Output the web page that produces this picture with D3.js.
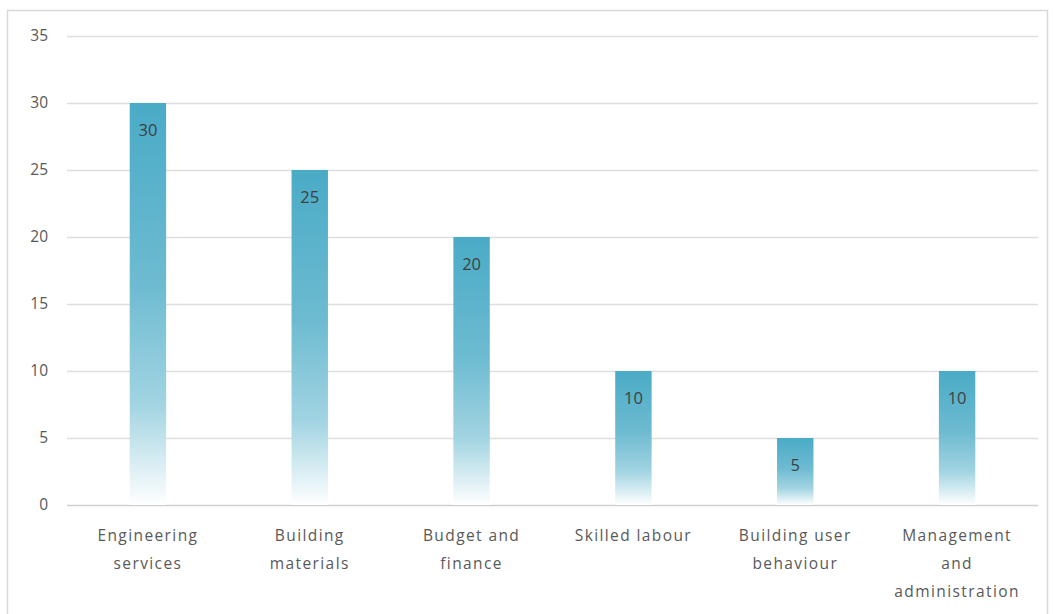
<!DOCTYPE html>
<html>
<head>
<meta charset="utf-8">
<script src="https://cdn.jsdelivr.net/npm/d3@7"></script>
<style>
  html, body { margin: 0; padding: 0; background: #ffffff; }
  svg { display: block; }
</style>
</head>
<body>
<script>
// Reported factor counts by category
const categories = [
  ["Engineering", "services"],
  ["Building", "materials"],
  ["Budget and", "finance"],
  ["Skilled labour"],
  ["Building user", "behaviour"],
  ["Management", "and", "administration"]
];
const values = [30, 25, 20, 10, 5, 10];
const yTicks = [0, 5, 10, 15, 20, 25, 30, 35];

const W = 1053, H = 614;
const margin = { left: 67, right: 15, top: 36, bottom: 109 };

const svg = d3.select("body").append("svg")
  .attr("width", W).attr("height", H);

// chart frame
svg.append("rect")
  .attr("x", 7.5).attr("y", 10.5)
  .attr("width", 1040).attr("height", 620)
  .attr("fill", "#fff").attr("stroke", "#d9d9d9").attr("stroke-width", 1.5);

const x = d3.scaleBand()
  .domain(d3.range(categories.length))
  .range([margin.left, W - margin.right])
  .paddingInner(0.775).paddingOuter(0.3875);

const y = d3.scaleLinear()
  .domain([0, 35])
  .range([H - margin.bottom, margin.top]);

const defs = svg.append("defs");
const grad = defs.append("linearGradient")
  .attr("id", "barFill")
  .attr("x1", 0).attr("y1", 0).attr("x2", 0).attr("y2", 1);
grad.append("stop").attr("offset", "0%").attr("stop-color", "#4aabc6");
grad.append("stop").attr("offset", "45%").attr("stop-color", "#6dbbd1");
grad.append("stop").attr("offset", "75%").attr("stop-color", "#a2d4e2");
grad.append("stop").attr("offset", "100%").attr("stop-color", "#ffffff");

// horizontal gridlines
svg.append("g")
  .selectAll("line")
  .data(yTicks)
  .join("line")
  .attr("x1", margin.left).attr("x2", W - margin.right)
  .attr("y1", d => Math.round(y(d)) + 0.5).attr("y2", d => Math.round(y(d)) + 0.5)
  .attr("stroke", d => d === 0 ? "#d0d0d0" : "#dedede")
  .attr("stroke-width", 1.3);

// y axis labels
const yAxis = d3.axisLeft(y).tickValues(yTicks).tickSize(0).tickPadding(0);
const gy = svg.append("g")
  .attr("transform", `translate(${margin.left - 19},0)`)
  .call(yAxis);
gy.select(".domain").remove();
gy.selectAll("text")
  .attr("font-family", "'Open Sans', sans-serif")
  .attr("font-size", 15.5)
  .attr("fill", "#595959");

// bars
svg.append("g")
  .selectAll("rect")
  .data(values)
  .join("rect")
  .attr("x", (d, i) => x(i))
  .attr("y", d => y(d))
  .attr("width", x.bandwidth())
  .attr("height", d => y(0) - y(d))
  .attr("fill", "url(#barFill)");

// value labels
svg.append("g")
  .selectAll("text")
  .data(values)
  .join("text")
  .attr("x", (d, i) => x(i) + x.bandwidth() / 2)
  .attr("y", d => y(d) + 33)
  .attr("text-anchor", "middle")
  .attr("font-family", "'Open Sans', sans-serif")
  .attr("font-size", 16.5)
  .attr("fill", "#404040")
  .text(d => d);

// category labels
const xAxis = d3.axisBottom(x).tickSize(0).tickFormat("");
const gx = svg.append("g")
  .attr("transform", `translate(0,${y(0)})`)
  .call(xAxis);
gx.select(".domain").remove();
gx.selectAll(".tick").each(function(d) {
  const t = d3.select(this).append("text")
    .attr("text-anchor", "middle")
    .attr("font-family", "'Open Sans', sans-serif")
    .attr("font-size", 15.5)
    .attr("letter-spacing", 1.4)
    .attr("fill", "#595959");
  categories[d].forEach((line, k) => {
    t.append("tspan").attr("x", 0).attr("y", 36 + k * 28).text(line);
  });
});
</script>
</body>
</html>
